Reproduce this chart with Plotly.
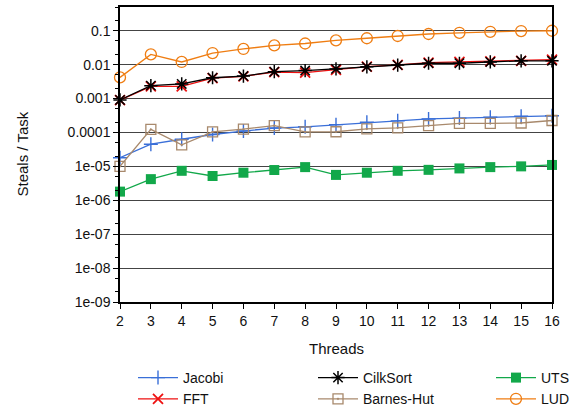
import plotly.graph_objects as go

threads = list(range(2, 17))
jacobi = [1.8e-5, 4.5e-5, 6.3e-5, 8.7e-5, 1.1e-4, 1.35e-4, 1.47e-4, 1.7e-4, 2.0e-4, 2.2e-4, 2.5e-4, 2.65e-4, 2.8e-4, 3.0e-4, 3.1e-4]
fft = [0.0009, 0.0023, 0.0023, 0.0040, 0.0045, 0.0060, 0.0058, 0.0070, 0.0088, 0.0099, 0.0115, 0.0120, 0.0125, 0.0130, 0.0140]
cilksort = [0.00091, 0.0024, 0.0027, 0.0041, 0.0046, 0.0062, 0.0067, 0.0075, 0.0086, 0.0097, 0.0110, 0.0110, 0.0120, 0.0130, 0.0130]
barnes = [1.0e-5, 1.23e-4, 4.3e-5, 1.04e-4, 1.25e-4, 1.6e-4, 1.04e-4, 1.05e-4, 1.28e-4, 1.37e-4, 1.6e-4, 1.85e-4, 1.85e-4, 1.9e-4, 2.25e-4]
uts = [1.8e-6, 4.2e-6, 7.4e-6, 5.2e-6, 6.5e-6, 7.8e-6, 9.5e-6, 5.6e-6, 6.5e-6, 7.4e-6, 7.9e-6, 8.7e-6, 9.5e-6, 1.0e-5, 1.1e-5]
lud = [0.0042, 0.020, 0.012, 0.022, 0.029, 0.037, 0.042, 0.052, 0.060, 0.070, 0.080, 0.087, 0.093, 0.098, 0.100]

ytick_vals = [1e-9, 1e-8, 1e-7, 1e-6, 1e-5, 1e-4, 1e-3, 1e-2, 1e-1]
ytick_text = ["1e-09", "1e-08", "1e-07", "1e-06", "1e-05", "0.0001", "0.001", "0.01", "0.1"]

series = [
    ("Jacobi", jacobi, "#3a6fd8", dict(symbol="cross-thin-open", size=10, line=dict(width=1.4, color="#3a6fd8")), "legend"),
    ("FFT", fft, "#ee1111", dict(symbol="x-thin-open", size=10, line=dict(width=1.8, color="#ee1111")), "legend"),
    ("CilkSort", cilksort, "#000000", dict(symbol="asterisk-open", size=11, line=dict(width=1.5, color="#000000")), "legend2"),
    ("Barnes-Hut", barnes, "#a8896c", dict(symbol="square-open-dot", size=10, line=dict(width=1.3, color="#a8896c"), color="#a8896c"), "legend2"),
    ("UTS", uts, "#12a84a", dict(symbol="square", size=10, color="#12a84a", line=dict(width=0)), "legend3"),
    ("LUD", lud, "#ef7d12", dict(symbol="circle-open", size=11, line=dict(width=1.3, color="#ef7d12")), "legend3"),
]

fig = go.Figure()
for name, vals, col, mk, lg in series:
    fig.add_trace(go.Scatter(x=threads, y=vals, name=name, mode="lines+markers",
                             line=dict(color=col, width=1.3), marker=mk,
                             cliponaxis=False, legend=lg))

def leg(xpx):
    return dict(orientation="v", xref="container", yref="container",
                x=xpx / 577, xanchor="left", y=1 - 362 / 411, yanchor="top",
                font=dict(size=14), itemwidth=40, tracegroupgap=0,
                bgcolor="rgba(0,0,0,0)", traceorder="normal")

fig.update_layout(
    width=577, height=411,
    margin=dict(l=120, r=25, t=7, b=109, autoexpand=False),
    paper_bgcolor="white", plot_bgcolor="white",
    font=dict(family="Liberation Sans, Arial, sans-serif", size=14, color="#111"),
    showlegend=True,
    legend=leg(133), legend2=leg(313), legend3=leg(491),
    annotations=[
        dict(text="Threads", xref="paper", yref="paper", x=0.5, y=(302 - 348) / 295,
             xanchor="center", yanchor="middle", showarrow=False, font=dict(size=15)),
        dict(text="Steals / Task", xref="paper", yref="paper", x=(22 - 120) / 432, y=0.5,
             xanchor="center", yanchor="middle", textangle=-90, showarrow=False, font=dict(size=15)),
    ],
)
fig.update_xaxes(
    range=[2, 16], tickmode="array", tickvals=threads,
    showgrid=False, zeroline=False,
    showline=True, linecolor="black", linewidth=1.5, mirror=True,
    ticks="outside", ticklen=5, tickcolor="black",
)
fig.update_yaxes(
    type="log", range=[-9, -0.3],
    tickmode="array", tickvals=ytick_vals, ticktext=ytick_text,
    showgrid=True, gridcolor="#444", gridwidth=1,
    zeroline=False,
    showline=True, linecolor="black", linewidth=1.5, mirror=True,
    ticks="outside", ticklen=5, tickcolor="black",
    minor=dict(ticks="outside", ticklen=3, dtick="D2", tickcolor="black", showgrid=False),
)

fig.write_html("out.html", config={"displayModeBar": False},
               post_script="document.body.style.margin='0';")
